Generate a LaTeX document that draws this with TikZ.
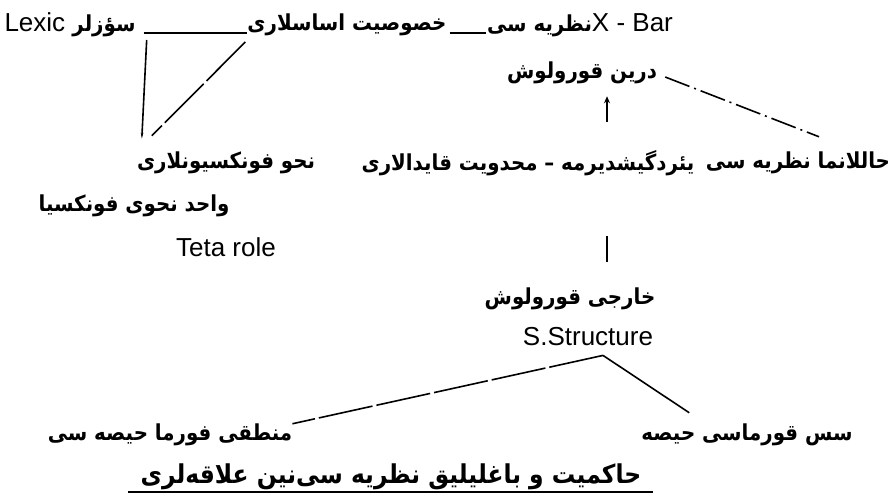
\documentclass[tikz,border=0pt]{standalone}
\usepackage{fontspec}
\setmainfont{Liberation Sans}
\newfontfamily\arfont[Script=Arabic, FakeStretch=0.9]{DejaVu Sans}
\TeXXeTstate=1
\usetikzlibrary{arrows.meta, positioning}

% Arabic-script run, right to left, bold
\newcommand{\fa}[2][22]{{\arfont\bfseries\fontsize{#1}{#1}\selectfont\beginR #2\endR}}

\begin{document}
\begin{tikzpicture}[
  x=1pt, y=-1pt,
  term/.style    = {inner sep=0pt, font=\fontsize{26}{30}\selectfont},
  link/.style    = {line width=1.6pt, black},
  dlong/.style   = {link, dash pattern=on 55pt off 4pt},
  dashdot/.style = {link, dash pattern=on 26pt off 5pt on 2pt off 5pt},
  arr/.style     = {link, -{Stealth[length=7pt, width=6pt]}},
  bar/.style     = {line width=2.4pt, black}
]
\useasboundingbox (0,0) rectangle (892,495);

% ---------- top row ----------
\node[term] (lexic) at (70,25)  {Lexic \fa{سؤزلر}};
\node[term] (khos)  at (347,25) {\fa{خصوصیت اساسلاری}};
\node[term] (xbar)  at (580,25) {\fa{نظریه سی}X - Bar};

\draw[link] ([xshift=8pt,yshift=-8pt]lexic.east) -- ([yshift=-8pt]khos.west);
\draw[link] ([xshift=3pt,yshift=-8pt]khos.east) -- ([xshift=-1pt,yshift=-8pt]xbar.west);

% ---------- deep structure ----------
\node[term] (derin) at (582,73) {\fa{درین قورولوش}};

% ---------- middle row ----------
\node[term] (nahv)      at (226,163) {\fa{نحو فونکسیونلاری}};
\node[term] (yerdeyish) at (528,163) {\fa{یئردگیشدیرمه – محدویت قایدالاری}};
\node[term] (hallanma)  at (798,163) {\fa{حاللانما نظریه سی}};

\node[term] (vahid) at (134,206) {\fa{واحد نحوی فونکسیا}};
\node[term] (teta)  at (226,247) {Teta role};

\draw[link, -{Stealth[length=6pt, width=2.5pt]}]
  ([xshift=11pt,yshift=-15pt]lexic.east) -- ([xshift=5pt,yshift=13pt]nahv.north west);
\draw[dlong] ([xshift=-2pt,yshift=-17pt]khos.west) -- ([xshift=15pt,yshift=16pt]nahv.north west);

\coordinate (armx) at (607,0);
\draw[arr] ([yshift=28pt]armx |- yerdeyish.north) -- ([yshift=-12pt]armx |- derin.south);
\draw[dashdot] ([xshift=8pt,yshift=-4pt]derin.east) -- ([xshift=21pt,yshift=15pt]hallanma.north);

% ---------- surface structure ----------
\node[term] (xarici)  at (570,299) {\fa{خارجی قورولوش}};
\node[term] (sstruct) at (588,337) {S.Structure};

\draw[bar] ([yshift=-60pt]armx |- yerdeyish.south) -- ([yshift=26pt]armx |- xarici.north);

\node[term] (mantiqi) at (170,435) {\fa{منطقی فورما حیصه سی}};
\node[term] (ses)     at (747,435) {\fa{سس قورماسی حیصه}};

\draw[dlong] ([xshift=15pt,yshift=-9pt]sstruct.south) -- (mantiqi.north east);
\draw[link]  ([xshift=15pt,yshift=-9pt]sstruct.south) -- ([xshift=48pt,yshift=11pt]ses.north west);

% ---------- caption ----------
\node[term] (title) at (391,477) {\fa[26]{حاکمیت و باغلیلیق نظریه سی‌نین علاقه‌لری}};
\draw[link, line width=2pt] ([xshift=-12pt,yshift=-2pt]title.south west) -- ([xshift=11pt,yshift=-2pt]title.south east);

\end{tikzpicture}
\end{document}
